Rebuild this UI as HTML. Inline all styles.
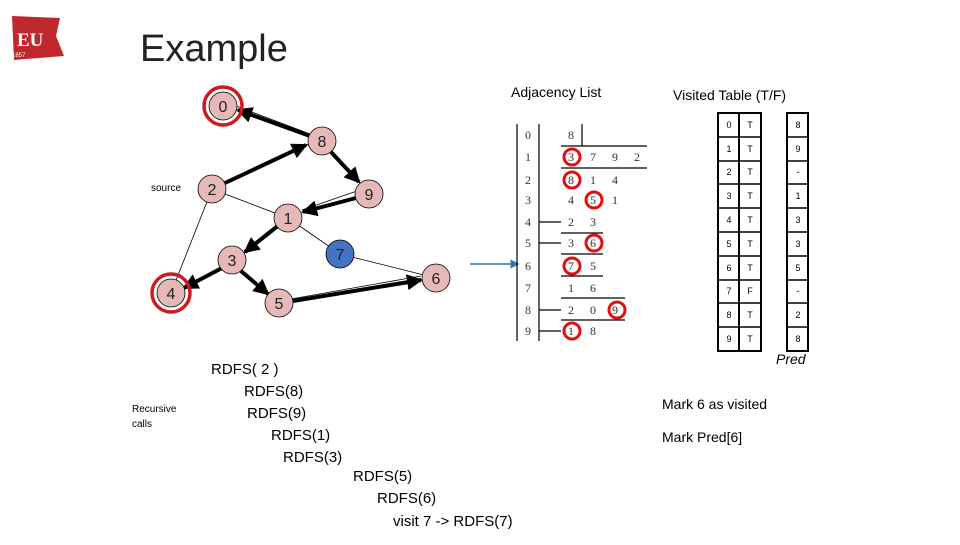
<!DOCTYPE html>
<html><head><meta charset="utf-8"><style>
body{margin:0;background:#fff;width:960px;height:540px;overflow:hidden}
svg text{font-family:"Liberation Sans",sans-serif}
svg text.s{font-family:"Liberation Serif",serif}
</style></head><body>
<svg width="960" height="540" viewBox="0 0 960 540" xmlns="http://www.w3.org/2000/svg">
<defs>
<marker id="ah" markerWidth="4" markerHeight="4" refX="3.5" refY="2" orient="auto" markerUnits="strokeWidth"><path d="M0,0 L4,2 L0,4 z" fill="#000"/></marker>
<marker id="bh" markerWidth="6" markerHeight="6" refX="5" refY="3" orient="auto" markerUnits="strokeWidth"><path d="M0,0 L6,3 L0,6 z" fill="#2e75b6"/></marker>
</defs>
<path d="M12,16 L60,18 L56,36 L64,56 L14,60 Z" fill="#c0272d"/>
<text x="17" y="46" font-size="19" font-weight="bold" fill="#fff" class="s">EU</text>
<text x="12" y="57" font-size="6" fill="#fff">1857</text>
<text x="140" y="61" font-size="38" fill="#222">Example</text>

<g stroke="#000" stroke-width="0.8" fill="none">
<line x1="212" y1="189" x2="288" y2="218"/>
<line x1="212" y1="189" x2="171" y2="293"/>
<line x1="288" y1="218" x2="340" y2="254"/>
<line x1="340" y1="254" x2="436" y2="278"/>
<line x1="236" y1="106" x2="310" y2="134"/>
<line x1="222" y1="183" x2="310" y2="144"/>
<line x1="357" y1="191" x2="302" y2="210"/>
<line x1="291" y1="299" x2="421" y2="276"/>
</g>
<g stroke="#000" stroke-width="4" fill="none" marker-end="url(#ah)">
<line x1="310" y1="136" x2="238" y2="110"/>
<line x1="225" y1="183" x2="306" y2="145"/>
<line x1="331" y1="152" x2="359" y2="182"/>
<line x1="356" y1="198" x2="303" y2="212"/>
<line x1="279" y1="225" x2="245" y2="252"/>
<line x1="222" y1="268" x2="184" y2="288"/>
<line x1="241" y1="271" x2="268" y2="294"/>
<line x1="293" y1="301" x2="421" y2="280"/>
</g>
<g stroke="#000" stroke-width="0.8">
<circle cx="223" cy="106" r="14" fill="#e6b9b8"/>
<circle cx="322" cy="141" r="14" fill="#e6b9b8"/>
<circle cx="212" cy="189" r="14" fill="#e6b9b8"/>
<circle cx="369" cy="194" r="14" fill="#e6b9b8"/>
<circle cx="288" cy="218" r="14" fill="#e6b9b8"/>
<circle cx="232" cy="260" r="14" fill="#e6b9b8"/>
<circle cx="340" cy="254" r="14" fill="#4472c4"/>
<circle cx="171" cy="293" r="14" fill="#e6b9b8"/>
<circle cx="279" cy="303" r="14" fill="#e6b9b8"/>
<circle cx="436" cy="278" r="14" fill="#e6b9b8"/>
</g>
<g fill="none" stroke="#d0191e" stroke-width="3.5">
<circle cx="223" cy="106" r="19"/>
<circle cx="171" cy="293" r="19"/>
</g>
<g font-size="16" text-anchor="middle" fill="#222">
<text x="223" y="112">0</text><text x="322" y="147">8</text><text x="212" y="195">2</text>
<text x="369" y="200">9</text><text x="288" y="224">1</text><text x="232" y="266">3</text>
<text x="340" y="260">7</text><text x="171" y="299">4</text><text x="279" y="309">5</text>
<text x="436" y="284">6</text>
</g>
<text x="151" y="191" font-size="10">source</text>
<text x="132" y="412" font-size="10">Recursive</text>
<text x="132" y="427" font-size="10">calls</text>

<text x="511" y="97" font-size="14">Adjacency List</text>
<text x="673" y="100" font-size="14">Visited Table (T/F)</text>

<line x1="470" y1="264" x2="518" y2="264" stroke="#2e75b6" stroke-width="1.5" marker-end="url(#bh)"/>

<g stroke="#000" stroke-width="1.2">
<line x1="517" y1="124" x2="517" y2="341"/>
<line x1="539" y1="124" x2="539" y2="341"/>
<line x1="582" y1="124" x2="582" y2="146"/>
<line x1="561" y1="146" x2="647" y2="146"/>
<line x1="561" y1="168" x2="647" y2="168"/>
<line x1="561" y1="233" x2="603" y2="233"/>
<line x1="561" y1="254" x2="603" y2="254"/>
<line x1="561" y1="276" x2="603" y2="276"/>
<line x1="561" y1="298" x2="625" y2="298"/>
<line x1="561" y1="320" x2="625" y2="320"/>
<line x1="539" y1="222" x2="561" y2="222"/>
<line x1="539" y1="243" x2="561" y2="243"/>
<line x1="539" y1="310" x2="561" y2="310"/>
<line x1="539" y1="331" x2="561" y2="331"/>
</g>
<g font-size="12" fill="#333" text-anchor="middle">
<text class="s" x="528" y="139">0</text><text class="s" x="528" y="161">1</text><text class="s" x="528" y="184">2</text><text class="s" x="528" y="204">3</text><text class="s" x="528" y="226">4</text><text class="s" x="528" y="247">5</text><text class="s" x="528" y="270">6</text><text class="s" x="528" y="292">7</text><text class="s" x="528" y="314">8</text><text class="s" x="528" y="335">9</text>
<text class="s" x="571" y="139">8</text>
<text class="s" x="571" y="161">3</text><text class="s" x="593" y="161">7</text><text class="s" x="615" y="161">9</text><text class="s" x="637" y="161">2</text>
<text class="s" x="571" y="184">8</text><text class="s" x="593" y="184">1</text><text class="s" x="615" y="184">4</text>
<text class="s" x="571" y="204">4</text><text class="s" x="593" y="204">5</text><text class="s" x="615" y="204">1</text>
<text class="s" x="571" y="226">2</text><text class="s" x="593" y="226">3</text>
<text class="s" x="571" y="247">3</text><text class="s" x="593" y="247">6</text>
<text class="s" x="571" y="270">7</text><text class="s" x="593" y="270">5</text>
<text class="s" x="571" y="292">1</text><text class="s" x="593" y="292">6</text>
<text class="s" x="571" y="314">2</text><text class="s" x="593" y="314">0</text><text class="s" x="615" y="314">9</text>
<text class="s" x="571" y="335">1</text><text class="s" x="593" y="335">8</text>
</g>
<g fill="none" stroke="#e01010" stroke-width="3">
<circle cx="572" cy="157" r="8"/><circle cx="572" cy="180" r="8"/><circle cx="594" cy="200" r="8"/>
<circle cx="594" cy="243" r="8"/><circle cx="572" cy="266" r="8"/><circle cx="617" cy="310" r="8"/>
<circle cx="572" cy="331" r="8"/>
</g>

<g stroke="#000" stroke-width="2" fill="none">
<rect x="718" y="113" width="43" height="238"/>
<line x1="739" y1="113" x2="739" y2="351"/>
<rect x="787" y="113" width="21" height="238"/>
</g>
<g stroke="#000" stroke-width="1.5">
<line x1="718" y1="137" x2="761" y2="137"/><line x1="718" y1="161" x2="761" y2="161"/><line x1="718" y1="184" x2="761" y2="184"/><line x1="718" y1="208" x2="761" y2="208"/><line x1="718" y1="232" x2="761" y2="232"/><line x1="718" y1="256" x2="761" y2="256"/><line x1="718" y1="280" x2="761" y2="280"/><line x1="718" y1="303" x2="761" y2="303"/><line x1="718" y1="327" x2="761" y2="327"/>
<line x1="787" y1="137" x2="808" y2="137"/><line x1="787" y1="161" x2="808" y2="161"/><line x1="787" y1="184" x2="808" y2="184"/><line x1="787" y1="208" x2="808" y2="208"/><line x1="787" y1="232" x2="808" y2="232"/><line x1="787" y1="256" x2="808" y2="256"/><line x1="787" y1="280" x2="808" y2="280"/><line x1="787" y1="303" x2="808" y2="303"/><line x1="787" y1="327" x2="808" y2="327"/>
</g>
<g font-size="9" fill="#000" text-anchor="middle">
<text x="729" y="128">0</text><text x="750" y="128">T</text><text x="798" y="128">8</text>
<text x="729" y="152">1</text><text x="750" y="152">T</text><text x="798" y="152">9</text>
<text x="729" y="175">2</text><text x="750" y="175">T</text><text x="798" y="175">-</text>
<text x="729" y="199">3</text><text x="750" y="199">T</text><text x="798" y="199">1</text>
<text x="729" y="223">4</text><text x="750" y="223">T</text><text x="798" y="223">3</text>
<text x="729" y="247">5</text><text x="750" y="247">T</text><text x="798" y="247">3</text>
<text x="729" y="271">6</text><text x="750" y="271">T</text><text x="798" y="271">5</text>
<text x="729" y="294">7</text><text x="750" y="294">F</text><text x="798" y="294">-</text>
<text x="729" y="318">8</text><text x="750" y="318">T</text><text x="798" y="318">2</text>
<text x="729" y="342">9</text><text x="750" y="342">T</text><text x="798" y="342">8</text>
</g>
<text x="776" y="364" font-size="14" font-style="italic">Pred</text>
<text x="662" y="409" font-size="14">Mark 6 as visited</text>
<text x="662" y="442" font-size="14">Mark Pred[6]</text>

<g font-size="15" fill="#000">
<text x="211" y="374">RDFS( 2 )</text>
<text x="244" y="396">RDFS(8)</text>
<text x="247" y="418">RDFS(9)</text>
<text x="271" y="440">RDFS(1)</text>
<text x="283" y="462">RDFS(3)</text>
<text x="353" y="481">RDFS(5)</text>
<text x="377" y="503">RDFS(6)</text>
<text x="393" y="526">visit 7 -&gt; RDFS(7)</text>
</g>
</svg>
</body></html>
